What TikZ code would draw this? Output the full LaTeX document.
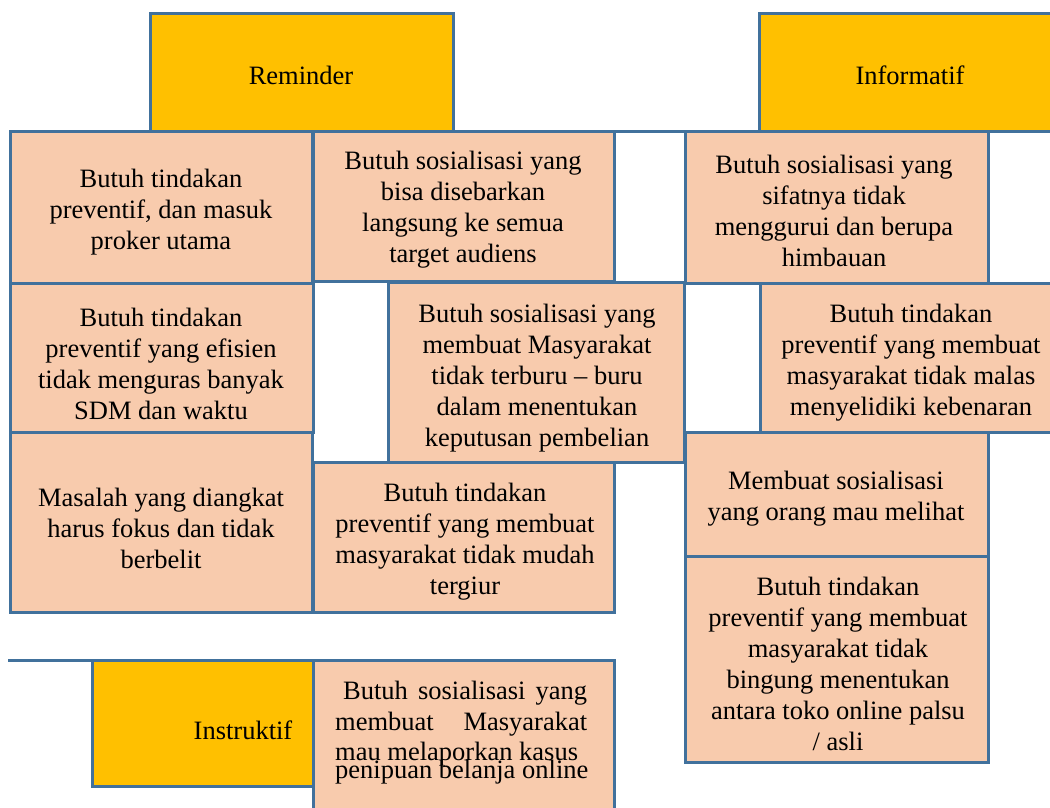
\documentclass[tikz,border=0pt]{standalone}
\usepackage{fontspec}
\setmainfont{Liberation Serif}
\usepackage{xcolor}
\usepackage{tikz}
\usetikzlibrary{positioning}

\definecolor{boxblue}{HTML}{41719C}
\definecolor{peach}{HTML}{F8CBAD}
\definecolor{amber}{HTML}{FFC000}

\tikzset{
  cell/.style={draw=boxblue, line width=3pt, fill=peach},
  head/.style={draw=boxblue, line width=3pt, fill=amber},
  txt/.style={align=center, inner sep=0pt, yshift=-2pt, font=\fontsize{26.5}{31}\selectfont},
  jline/.style={anchor=base west, inner sep=0pt, font=\fontsize{26.5}{31}\selectfont}
}

\begin{document}
\begin{tikzpicture}[x=1pt, y=-1pt]

\clip (0,0) rectangle (1050,807);
\useasboundingbox (0,0) rectangle (1050,807);

% kepala kolom
\draw[head] (150,13) rectangle (453,131);
\draw[head] (759,13) rectangle (1062,131);

% kolom reminder
\draw[cell] (10,131) rectangle (312,283);
\draw[cell] (313,131) rectangle (614,281);
\draw[cell] (10,283) rectangle (313,432);
\draw[cell] (388,282) rectangle (684,462);
\draw[cell] (10,432) rectangle (312,612);
\draw[cell] (313,462) rectangle (614,612);

% kolom informatif
\draw[cell] (685,131) rectangle (988,283);
\draw[cell] (760,283) rectangle (1062,432);
\draw[cell] (685,432) rectangle (988,556);
\draw[cell] (685,556) rectangle (988,762);
\draw[line width=3pt, boxblue] (614,131) -- (1050,131);

% instruktif
\draw[line width=3pt, boxblue] (8,660) -- (92,660);
\draw[head] (92,660) rectangle (313,786);
\draw[cell] (313,660) rectangle (614,830);

\node[txt] (reminder) at (301,73) {Reminder};
\node[txt] (informatif) at (910,73) {Informatif};
\node[txt] (instruktif) at (243,728) {Instruktif};

\node[txt] (r1) at (161,210) {Butuh tindakan\\preventif, dan masuk\\proker utama};
\node[txt] (r2) at (463,208) {Butuh sosialisasi yang\\bisa disebarkan\\langsung ke semua\\target audiens};
\node[txt] (r3) at (161,362) {Butuh tindakan\\preventif yang efisien\\tidak menguras banyak\\SDM dan waktu};
\node[txt] (r4) at (537,376) {Butuh sosialisasi yang\\membuat Masyarakat\\tidak terburu -- buru\\dalam menentukan\\keputusan pembelian};
\node[txt] (r5) at (161,526) {Masalah yang diangkat\\harus fokus dan tidak\\berbelit};
\node[txt] (r6) at (465,540) {Butuh tindakan\\preventif yang membuat\\masyarakat tidak mudah\\tergiur};

\node[txt] (i1) at (834,209) {Butuh sosialisasi yang\\sifatnya tidak\\menggurui dan berupa\\himbauan};
\node[txt] (i2) at (911,361) {Butuh tindakan\\preventif yang membuat\\masyarakat tidak malas\\menyelidiki kebenaran};
\node[txt] (i3) at (836,497) {Membuat sosialisasi\\yang orang mau melihat};
\node[txt] (i4) at (838,662) {Butuh tindakan\\preventif yang membuat\\masyarakat tidak\\bingung menentukan\\antara toko online palsu\\/ asli};

\node[jline] (n1a) at (343,699) {\hbox to 244pt{Butuh\hfill sosialisasi\hfill yang}};
\node[jline] (n1b) at (335,730) {\hbox to 252pt{membuat\hfill Masyarakat}};
\node[jline] (n1c) at (335,760) {mau melaporkan kasus};
\node[jline] (n1d) at (335,778) {penipuan belanja online};

\end{tikzpicture}
\end{document}
